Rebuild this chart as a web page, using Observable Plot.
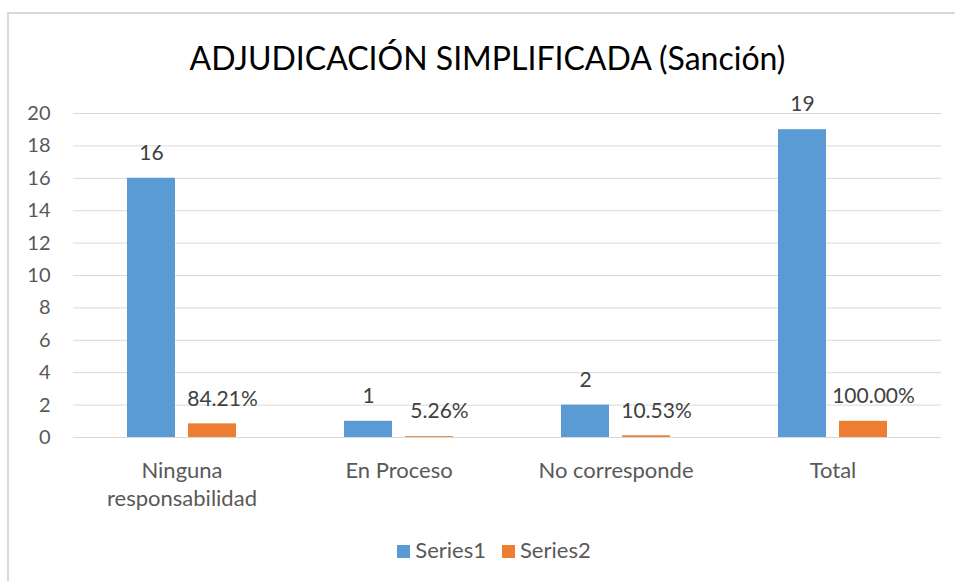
<!DOCTYPE html>
<html>
<head>
<meta charset="utf-8">
<script src="https://cdn.jsdelivr.net/npm/d3@7"></script>
<script src="https://cdn.jsdelivr.net/npm/@observablehq/plot@0.6"></script>
<style>
  html, body { margin: 0; padding: 0; background: #fff; width: 955px; height: 581px; overflow: hidden; }
  body { position: relative; font-family: Lato, "Open Sans", sans-serif; }
  #frame { position: absolute; left: 7px; top: 12px; width: 1000px; height: 620px; border: 2px solid #d9d9d9; box-sizing: border-box; }
  #title { position: absolute; left: 0; width: 975px; top: 38px; text-align: center; font-size: 32px; color: #000; white-space: nowrap; }
  #chart { position: absolute; left: 0; top: 0; }
  #legend { position: absolute; top: 536px; left: 0; width: 988px; text-align: center; font-size: 22px; color: #595959; }
  #legend span.item { display: inline-block; margin: 0 8px; }
  #legend span.sw { display: inline-block; width: 13px; height: 13px; margin-right: 5px; vertical-align: 0px; }
</style>
</head>
<body>
<div id="frame"></div>
<div id="title">ADJUDICACIÓN SIMPLIFICADA (Sanción)</div>
<div id="chart"></div>
<div id="legend"></div>
<script>
const categories = ["Ninguna responsabilidad", "En Proceso", "No corresponde", "Total"];
const categoryLabels = ["Ninguna\nresponsabilidad", "En Proceso", "No corresponde", "Total"];
const seriesNames = ["Series1", "Series2"];
const series1 = [16, 1, 2, 19];
const series2 = [0.8421, 0.0526, 0.1053, 1.0];
const series2Labels = ["84.21%", "5.26%", "10.53%", "100.00%"];
const yTicks = [0, 2, 4, 6, 8, 10, 12, 14, 16, 18, 20];
const colors = ["#5B9BD5", "#ED7D31"];

const rows = [];
categories.forEach((c, i) => {
  rows.push({category: c, series: "Series1", value: series1[i], label: String(series1[i])});
  rows.push({category: c, series: "Series2", value: series2[i], label: series2Labels[i]});
});
const labelOf = new Map(categories.map((c, i) => [c, categoryLabels[i]]));

const chart = Plot.plot({
  width: 955,
  height: 520,
  marginTop: 113,
  marginBottom: 83,
  marginLeft: 72,
  marginRight: 14,
  style: {fontFamily: "Lato, 'Open Sans', sans-serif", background: "transparent", overflow: "visible"},
  fx: {domain: categories, padding: 0, label: null, axis: null},
  x: {domain: seriesNames, paddingInner: 0.213, paddingOuter: 0.885, axis: null},
  y: {domain: [0, 20], label: null},
  color: {domain: seriesNames, range: colors},
  marks: [
    Plot.gridY(yTicks, {stroke: "#d9d9d9", strokeOpacity: 1, strokeWidth: 1}),
    Plot.axisY(yTicks, {tickSize: 0, tickPadding: 23, fontSize: 20, fill: "#595959", label: null}),
    Plot.axisFx({anchor: "bottom", tickSize: 0, tickPadding: 20, fontSize: 22, fill: "#595959", lineHeight: 1.3, tickFormat: d => labelOf.get(d), label: null}),
    Plot.barY(rows, {fx: "category", x: "series", y: "value", fill: "series"}),
    Plot.text(rows.filter(d => d.series === "Series1"), {fx: "category", x: "series", y: "value", text: "label", dy: -25, fontSize: 21, fill: "#404040"}),
    Plot.text(rows.filter(d => d.series === "Series2"), {fx: "category", x: "series", y: "value", text: "label", dy: -25, dx: 10, fontSize: 21, fill: "#404040"})
  ]
});
document.getElementById("chart").appendChild(chart);

const legend = document.getElementById("legend");
seriesNames.forEach((s, i) => {
  const item = document.createElement("span");
  item.className = "item";
  const sw = document.createElement("span");
  sw.className = "sw";
  sw.style.background = colors[i];
  item.appendChild(sw);
  item.appendChild(document.createTextNode(s));
  legend.appendChild(item);
});
</script>
</body>
</html>
